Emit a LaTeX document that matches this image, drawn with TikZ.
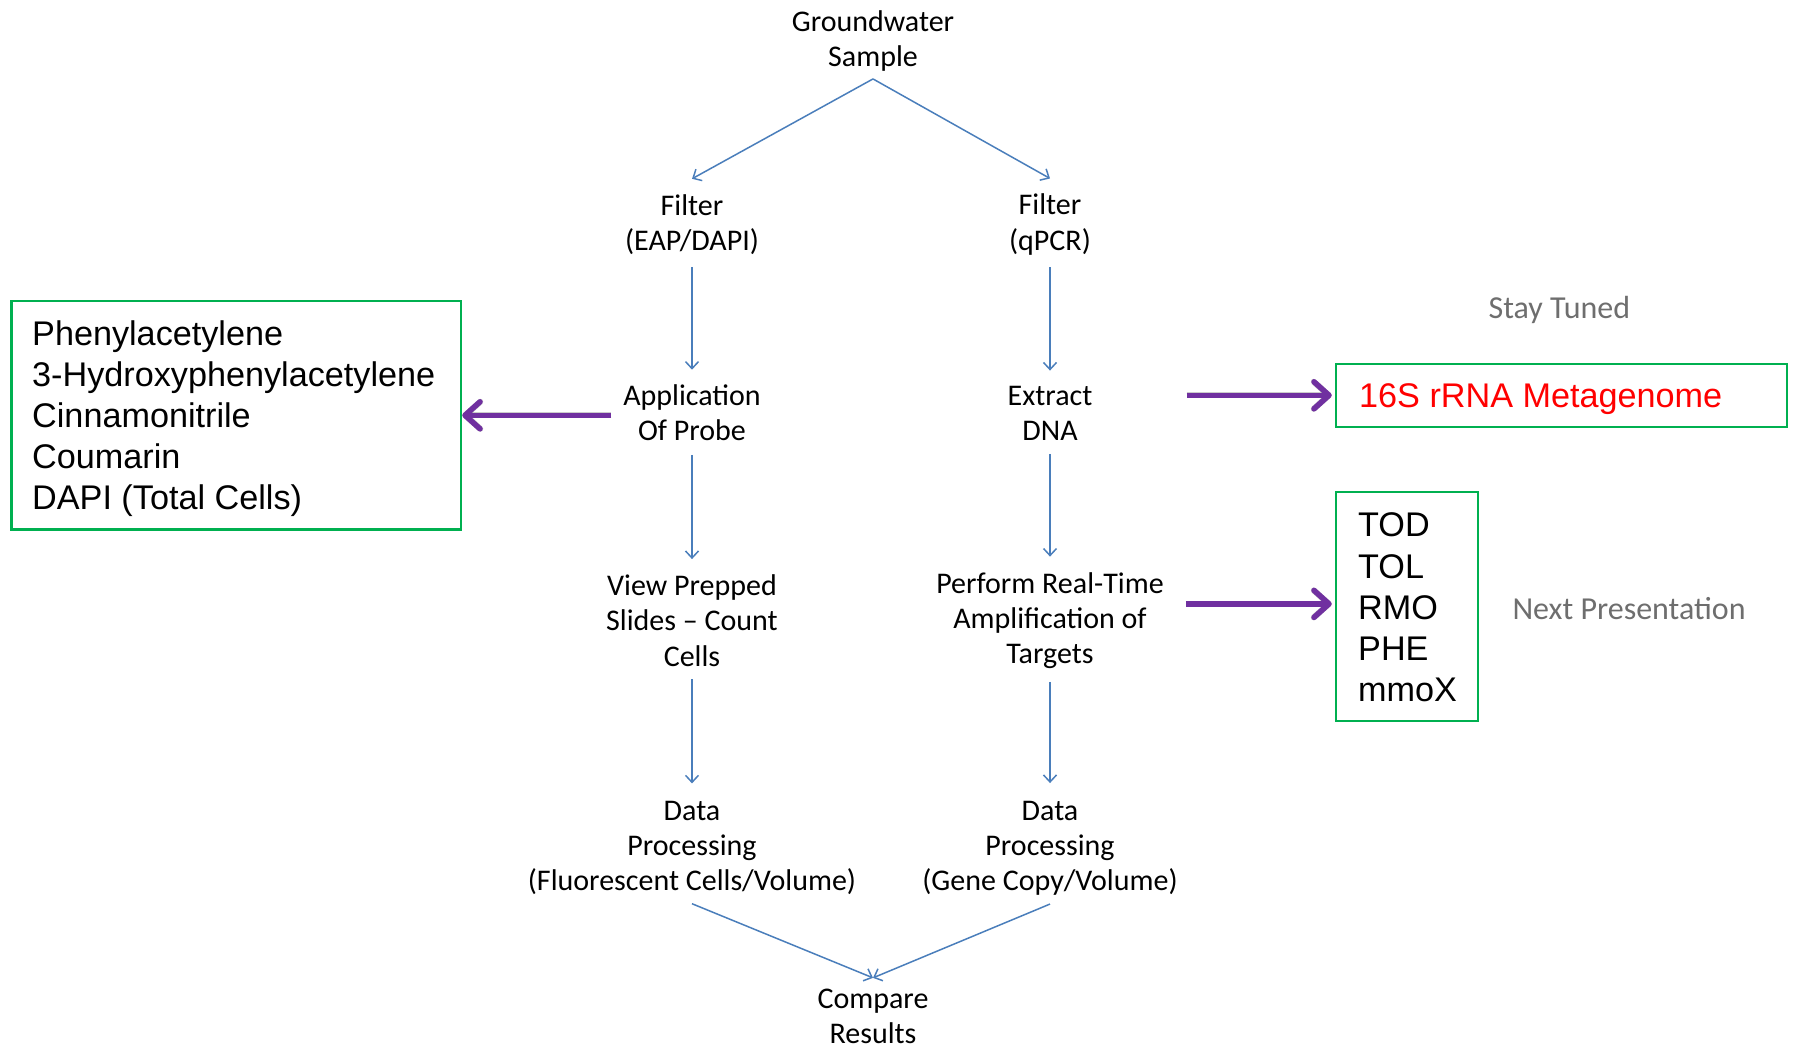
\documentclass[tikz,border=0pt]{standalone}
\usepackage{fontspec}
\setmainfont{Carlito}
\newfontfamily\arialf{Liberation Sans}
\usetikzlibrary{arrows.meta}
\definecolor{flowblue}{RGB}{74,126,187}
\definecolor{purp}{RGB}{112,48,160}
\definecolor{boxgreen}{RGB}{0,176,80}
\definecolor{notegray}{RGB}{110,110,110}
\begin{document}
\begin{tikzpicture}[x=1pt,y=-1pt,
  flowtxt/.style={align=center, inner sep=0pt, font=\fontsize{30}{35.2}\selectfont},
  notetxt/.style={inner sep=0pt, text=notegray, font=\fontsize{32}{38}\selectfont},
  flow/.style={draw=flowblue, line width=1.5pt, -{Straight Barb[length=7pt,width=13pt]}, shorten <=11pt, shorten >=17.5pt},
  purparrow/.style={draw=purp, line width=5.5pt, -{Straight Barb[length=15pt,width=27pt,round]}},
  purpshadow/.style={draw=black, opacity=0.2, line width=6pt, -{Straight Barb[length=15pt,width=27pt,round]}, xshift=2pt, yshift=-3pt},
  greenframe/.style={draw=boxgreen, line width=2.5pt, inner sep=0pt},
  boxtxt/.style={align=left, inner sep=0pt, anchor=west, font=\arialf\fontsize{34.2}{41.2}\selectfont}
]
\useasboundingbox (0,0) rectangle (1794,1047);

% flow text nodes
\node[flowtxt] (gw) at (873,41) {Groundwater\\Sample};
\node[flowtxt] (f1) at (692,224.5) {Filter\\(EAP/DAPI)};
\node[flowtxt] (f2) at (1050,224.5) {Filter\\(qPCR)};
\node[flowtxt] (app) at (692,413) {Application\\Of Probe};
\node[flowtxt] (ext) at (1050,413) {Extract\\DNA};
\node[flowtxt] (view) at (692,620.5) {View Prepped\\Slides -- Count\\Cells};
\node[flowtxt] (perf) at (1050,620.5) {Perform Real-Time\\Amplification of\\Targets};
\node[flowtxt] (d1) at (692,848) {Data\\Processing\\(Fluorescent Cells/Volume)};
\node[flowtxt] (d2) at (1050,848) {Data\\Processing\\(Gene Copy/Volume)};
\node[flowtxt] (cmp) at (873,1016) {Compare\\Results};

% side boxes (frames) and their texts
\node[greenframe, minimum width=449.6pt, minimum height=228.8pt] (probes) at (236.2,415.3) {};
\node[boxtxt] (probestxt) at (32,418.7)
  {Phenylacetylene\\3-Hydroxyphenylacetylene\\Cinnamonitrile\\Coumarin\\DAPI (Total Cells)};
\node[greenframe, minimum width=451pt, minimum height=63pt] (meta) at (1561.5,395.3) {};
\node[boxtxt, text=red] (metatxt) at (1359,399.5) {16S rRNA Metagenome};
\node[greenframe, minimum width=142pt, minimum height=228.8pt] (genes) at (1407,606.4) {};
\node[boxtxt] (genestxt) at (1358,607.5) {TOD\\TOL\\RMO\\PHE\\mmoX};

% notes
\node[notetxt] (stay) at (1559.4,310) {Stay Tuned};
\node[notetxt] (next) at (1629,608.7) {Next Presentation};

% junction points
\coordinate (apex) at ([yshift=-7.3pt]gw.south);
\coordinate (f1in) at ([yshift=15.4pt]f1.north);
\coordinate (f2in) at ([yshift=15.4pt]f2.north);
\coordinate (d1out) at ([yshift=-8.6pt]d1.south);
\coordinate (d2out) at ([yshift=-8.6pt]d2.south);
\coordinate (meet) at ([yshift=10.5pt]cmp.north);
\coordinate (genesin) at ([yshift=2.5pt]genes.west);

% blue flow connectors
\draw[flow, shorten <=0pt, shorten >=0pt] (apex) -- (f1in);
\draw[flow, shorten <=0pt, shorten >=0pt] (apex) -- (f2in);
\draw[flow, shorten <=12pt, shorten >=15pt] (f1) -- (app);
\draw[flow, shorten <=12pt, shorten >=15pt] (f2) -- (ext);
\draw[flow, shorten <=13.5pt, shorten >=15.5pt] (app) -- (view);
\draw[flow, shorten <=13.5pt, shorten >=15.5pt] (ext) -- (perf);
\draw[flow, shorten <=13pt] (view) -- (d1);
\draw[flow, shorten <=13pt] (perf) -- (d2);
\draw[flow, shorten <=0pt, shorten >=0pt] (d1out) -- (meet);
\draw[flow, shorten <=0pt, shorten >=0pt] (d2out) -- (meet);

% purple connectors with soft shadow
\draw[purpshadow, shorten <=12pt] (app.west |- probes.east) -- (probes.east);
\draw[purparrow, shorten <=12pt] (app.west |- probes.east) -- (probes.east);
\draw[purpshadow, shorten <=94pt, shorten >=3pt] (ext.east |- meta.west) -- (meta.west);
\draw[purparrow, shorten <=94pt, shorten >=3pt] (ext.east |- meta.west) -- (meta.west);
\draw[purpshadow, shorten <=22pt, shorten >=3pt] (perf.east |- genesin) -- (genesin);
\draw[purparrow, shorten <=22pt, shorten >=3pt] (perf.east |- genesin) -- (genesin);
\end{tikzpicture}
\end{document}
